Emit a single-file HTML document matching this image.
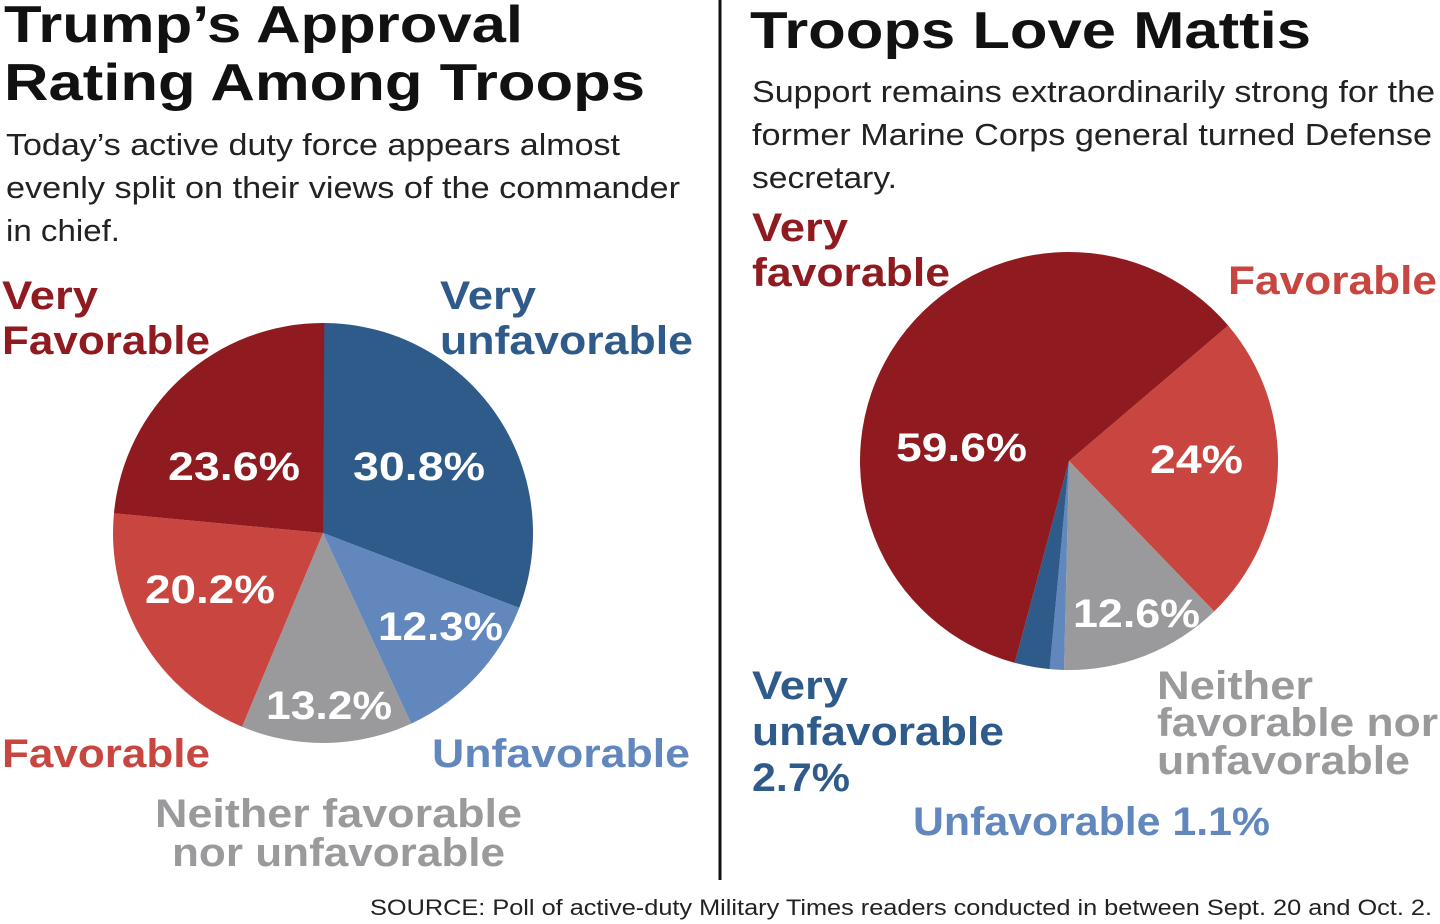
<!DOCTYPE html>
<html><head><meta charset="utf-8"><style>
html,body{margin:0;padding:0;background:#fff;width:1440px;height:924px;overflow:hidden}
svg text{font-family:"Liberation Sans",sans-serif}
.t{font-weight:bold;font-size:52px;fill:#111}
.s{font-size:31px;fill:#222}
.l{font-weight:bold;font-size:40px}
.p{font-weight:bold;font-size:40px;fill:#fff}
</style></head><body>
<svg id="g" width="1440" height="924" viewBox="0 0 1440 924" xmlns="http://www.w3.org/2000/svg">
<g id="pies"></g>
<line x1="720" y1="0" x2="720" y2="880" stroke="#111" stroke-width="3"/>
<g lengthAdjust="spacingAndGlyphs">
<text class="t" x="4" y="42" textLength="519" lengthAdjust="spacingAndGlyphs">Trump’s Approval</text>
<text class="t" x="4" y="100" textLength="641" lengthAdjust="spacingAndGlyphs">Rating Among Troops</text>
<text class="s" x="6" y="155" textLength="614" lengthAdjust="spacingAndGlyphs">Today’s active duty force appears almost</text>
<text class="s" x="6" y="198" textLength="674" lengthAdjust="spacingAndGlyphs">evenly split on their views of the commander</text>
<text class="s" x="6" y="241" textLength="114" lengthAdjust="spacingAndGlyphs">in chief.</text>
<text class="l" x="2" y="309" fill="#8f1a1f" textLength="96" lengthAdjust="spacingAndGlyphs">Very</text>
<text class="l" x="2" y="354" fill="#8f1a1f" textLength="208" lengthAdjust="spacingAndGlyphs">Favorable</text>
<text class="l" x="440" y="309" fill="#2f5b8a" textLength="96" lengthAdjust="spacingAndGlyphs">Very</text>
<text class="l" x="440" y="354" fill="#2f5b8a" textLength="253" lengthAdjust="spacingAndGlyphs">unfavorable</text>
<text class="l" x="2" y="767" fill="#c8463f" textLength="208" lengthAdjust="spacingAndGlyphs">Favorable</text>
<text class="l" x="432" y="767" fill="#6187bd" textLength="258" lengthAdjust="spacingAndGlyphs">Unfavorable</text>
<text class="l" x="155" y="827" fill="#9a9a9c" textLength="367" lengthAdjust="spacingAndGlyphs">Neither favorable</text>
<text class="l" x="172" y="866" fill="#9a9a9c" textLength="333" lengthAdjust="spacingAndGlyphs">nor unfavorable</text>
<text class="p" x="168" y="480" textLength="132" lengthAdjust="spacingAndGlyphs">23.6%</text>
<text class="p" x="353" y="480" textLength="132" lengthAdjust="spacingAndGlyphs">30.8%</text>
<text class="p" x="145" y="603" textLength="130" lengthAdjust="spacingAndGlyphs">20.2%</text>
<text class="p" x="378" y="640" textLength="125" lengthAdjust="spacingAndGlyphs">12.3%</text>
<text class="p" x="266" y="719" textLength="126" lengthAdjust="spacingAndGlyphs">13.2%</text>

<text class="t" x="750" y="48" textLength="561" lengthAdjust="spacingAndGlyphs">Troops Love Mattis</text>
<text class="s" x="752" y="102" textLength="683" lengthAdjust="spacingAndGlyphs">Support remains extraordinarily strong for the</text>
<text class="s" x="752" y="145" textLength="680" lengthAdjust="spacingAndGlyphs">former Marine Corps general turned Defense</text>
<text class="s" x="752" y="188" textLength="145" lengthAdjust="spacingAndGlyphs">secretary.</text>
<text class="l" x="752" y="241" fill="#8f1a1f" textLength="96" lengthAdjust="spacingAndGlyphs">Very</text>
<text class="l" x="752" y="286" fill="#8f1a1f" textLength="198" lengthAdjust="spacingAndGlyphs">favorable</text>
<text class="l" x="1228" y="294" fill="#c8463f" textLength="209" lengthAdjust="spacingAndGlyphs">Favorable</text>
<text class="l" x="752" y="699" fill="#2f5b8a" textLength="96" lengthAdjust="spacingAndGlyphs">Very</text>
<text class="l" x="752" y="745" fill="#2f5b8a" textLength="252" lengthAdjust="spacingAndGlyphs">unfavorable</text>
<text class="l" x="752" y="791" fill="#2f5b8a" textLength="98" lengthAdjust="spacingAndGlyphs">2.7%</text>
<text class="l" x="1157" y="699" fill="#9a9a9c" textLength="156" lengthAdjust="spacingAndGlyphs">Neither</text>
<text class="l" x="1157" y="736" fill="#9a9a9c" textLength="281" lengthAdjust="spacingAndGlyphs">favorable nor</text>
<text class="l" x="1157" y="774" fill="#9a9a9c" textLength="253" lengthAdjust="spacingAndGlyphs">unfavorable</text>
<text class="l" x="913" y="835" fill="#6187bd" textLength="357" lengthAdjust="spacingAndGlyphs">Unfavorable 1.1%</text>
<text class="p" x="896" y="461" textLength="131" lengthAdjust="spacingAndGlyphs">59.6%</text>
<text class="p" x="1150" y="473" textLength="93" lengthAdjust="spacingAndGlyphs">24%</text>
<text class="p" x="1073" y="627" textLength="127" lengthAdjust="spacingAndGlyphs">12.6%</text>
<text x="370" y="915" font-size="22" fill="#222" textLength="1062" lengthAdjust="spacingAndGlyphs">SOURCE: Poll of active-duty Military Times readers conducted in between Sept. 20 and Oct. 2.</text>
</g>
</svg>
<script>
function pie(cx,cy,r,start,data){
  var g=document.getElementById('pies'),a=start,ns='http://www.w3.org/2000/svg';
  data.forEach(function(d){
    var b=a+d[0]*3.6;
    var p=function(t){var rad=t*Math.PI/180;return [cx+r*Math.sin(rad),cy-r*Math.cos(rad)];};
    var s=p(a),e=p(b),large=(b-a)>180?1:0;
    var el=document.createElementNS(ns,'path');
    el.setAttribute('d','M'+cx+','+cy+'L'+s[0]+','+s[1]+'A'+r+','+r+' 0 '+large+' 1 '+e[0]+','+e[1]+'Z');
    el.setAttribute('fill',d[1]);g.appendChild(el);a=b;
  });
}
pie(323,533,210,0,[[30.8,'#2f5b8a'],[12.3,'#6187bd'],[13.2,'#9a9a9c'],[20.2,'#c8463f'],[23.6,'#8f1a1f']]);
pie(1069,461,209,49.6,[[24,'#c8463f'],[12.6,'#9a9a9c'],[1.1,'#6187bd'],[2.7,'#2f5b8a'],[59.6,'#8f1a1f']]);
</script>
</body></html>
